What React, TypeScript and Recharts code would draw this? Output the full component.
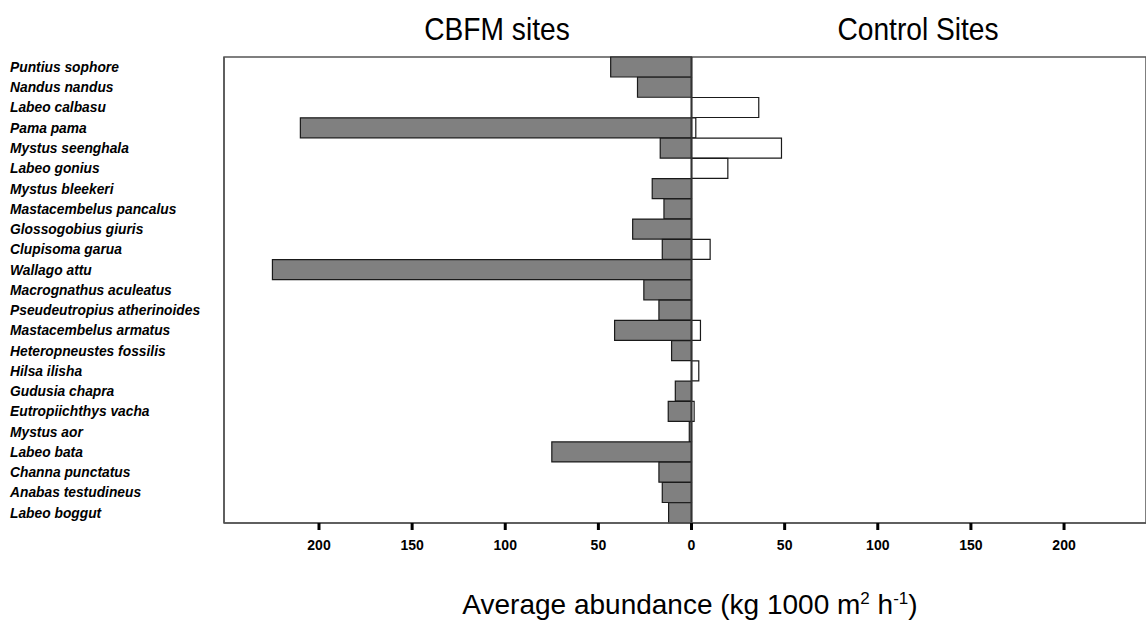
import {
  BarChart,
  Bar,
  XAxis,
  YAxis,
  ReferenceLine,
  ReferenceArea,
} from "recharts";

const species = [
  "Puntius sophore",
  "Nandus nandus",
  "Labeo calbasu",
  "Pama pama",
  "Mystus seenghala",
  "Labeo gonius",
  "Mystus bleekeri",
  "Mastacembelus pancalus",
  "Glossogobius giuris",
  "Clupisoma garua",
  "Wallago attu",
  "Macrognathus aculeatus",
  "Pseudeutropius atherinoides",
  "Mastacembelus armatus",
  "Heteropneustes fossilis",
  "Hilsa ilisha",
  "Gudusia chapra",
  "Eutropiichthys vacha",
  "Mystus aor",
  "Labeo bata",
  "Channa punctatus",
  "Anabas testudineus",
  "Labeo boggut",
];

// kg 1000 m^-2 h^-1
const cbfm = [43.4, 29, 0, 210, 16.8, 0, 21.1, 14.8, 31.6, 15.7, 225, 25.6, 17.5, 41.3, 10.7, 0, 8.7, 12.5, 1.2, 75, 17.5, 15.7, 12.3];
const control = [0, 0, 36.1, 2.3, 48.3, 19.5, 0, 0, 0, 10, 0, 0, 0, 4.8, 0, 3.9, 0, 1.4, 0, 0, 0, 0, 0];

const xTicks = [-200, -150, -100, -50, 0, 50, 100, 150, 200];

const data = species.map((name, i) => ({
  name,
  cbfm: -cbfm[i],
  control: control[i],
}));

const font = "'Liberation Sans', Arial, sans-serif";

function SpeciesTick({ y, payload }: any) {
  return (
    <text
      x={10}
      y={y}
      dy="0.35em"
      textAnchor="start"
      fontFamily={font}
      fontSize={13.8}
      fontWeight="bold"
      fontStyle="italic"
      fill="#000"
    >
      {payload.value}
    </text>
  );
}

const title: React.CSSProperties = {
  position: "absolute",
  top: 11,
  fontFamily: font,
  fontSize: 32,
  transform: "translateX(-50%) scaleX(0.88)",
  whiteSpace: "nowrap",
  color: "#000",
};

export default function App() {
  return (
    <div
      style={{
        position: "absolute",
        left: 0,
        top: 0,
        width: 1146,
        height: 621,
        background: "#fff",
        overflow: "hidden",
      }}
    >
      <div style={{ ...title, left: 497 }}>CBFM sites</div>
      <div style={{ ...title, left: 918 }}>Control Sites</div>

      <BarChart
        width={1146}
        height={621}
        data={data}
        layout="vertical"
        stackOffset="sign"
        barCategoryGap={0}
        margin={{ top: 57, right: 0, bottom: 0, left: 0 }}
      >
        <XAxis
          type="number"
          domain={[-251, 244]}
          ticks={xTicks}
          allowDataOverflow
          tickFormatter={(v: number) => String(Math.abs(v))}
          axisLine={{ stroke: "#555", strokeWidth: 1.5 }}
          tickLine={{ stroke: "#000", strokeWidth: 3 }}
          tickSize={7}
          tickMargin={10}
          height={98}
          tick={{ fontFamily: font, fontSize: 14, fontWeight: "bold", fill: "#000" }}
        />
        <YAxis
          type="category"
          dataKey="name"
          width={224}
          tick={<SpeciesTick />}
          tickLine={false}
          axisLine={{ stroke: "#555", strokeWidth: 1.5 }}
          interval={0}
        />
        <ReferenceArea
          x1={-251}
          x2={244}
          fill="none"
          stroke="#555"
          strokeWidth={1.5}
        />
        <Bar
          dataKey="cbfm"
          stackId="a"
          fill="#808080"
          stroke="#1a1a1a"
          strokeWidth={1.2}
          isAnimationActive={false}
        />
        <Bar
          dataKey="control"
          stackId="a"
          fill="#fff"
          stroke="#1a1a1a"
          strokeWidth={1.2}
          isAnimationActive={false}
        />
        <ReferenceLine x={0} stroke="#333" strokeWidth={2} />
      </BarChart>

      <div
        style={{
          position: "absolute",
          left: 690,
          top: 589,
          transform: "translateX(-50%)",
          fontFamily: font,
          fontSize: 28,
          whiteSpace: "nowrap",
          color: "#000",
        }}
      >
        Average abundance (kg 1000 m<sup style={{ fontSize: 17 }}>2</sup> h
        <sup style={{ fontSize: 17 }}>-1</sup>)
      </div>
    </div>
  );
}
